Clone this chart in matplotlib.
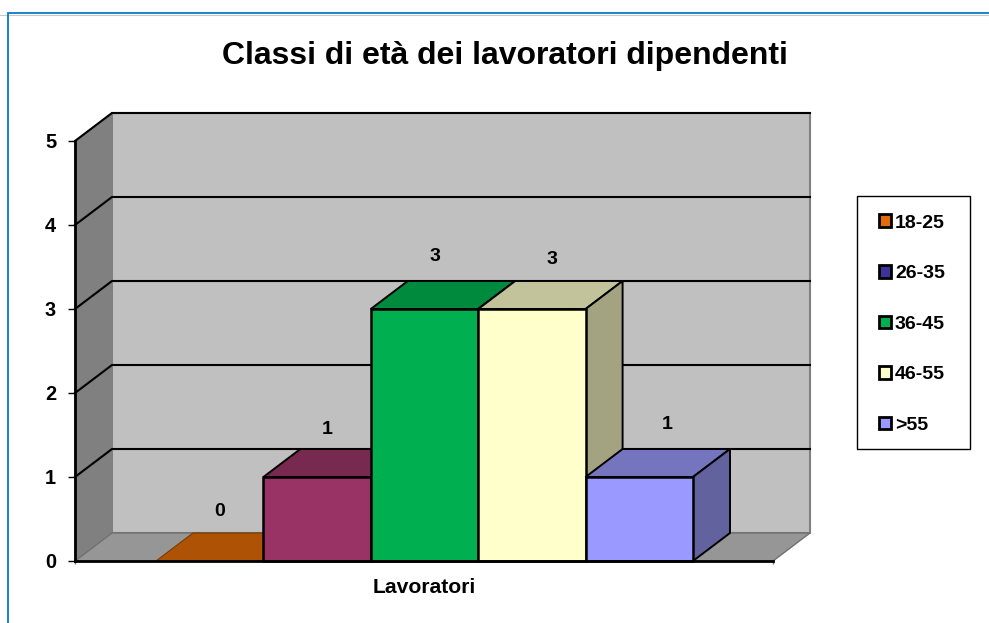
import matplotlib
matplotlib.use("Agg")
import matplotlib.pyplot as plt
from matplotlib.patches import Patch, Polygon, Rectangle

categories = ["18-25", "26-35", "36-45", "46-55", ">55"]
values = [0, 1, 3, 3, 1]
front_colors = ["#e26b0a", "#993366", "#00b050", "#ffffcc", "#9999ff"]
top_colors = ["#ae5305", "#77294f", "#008a3e", "#c2c29b", "#7575bf"]
side_colors = ["#8a4204", "#5e2040", "#006e31", "#a3a382", "#62629f"]
yticks = [0, 1, 2, 3, 4, 5]
legend_swatches = ["#e26b0a", "#403294", "#00b050", "#ffffcc", "#9999ff"]

# where the value labels sit, relative to the bar's left edge and top
label_dx = [0.595, 0.59, 0.595, 0.69, 0.76]
label_dy = [0.595, 0.56, 0.62, 0.585, 0.62]

W, H = 989, 623
x_left, x_right, y_top, y_bot = 75, 773, 141, 561
bar_w = 107.4
dx = 37 / bar_w  # depth of the 3d box in data units
dy = 28 / 84
x0 = (75 - 156) / bar_w
x1 = (773 - 156) / bar_w

plt.rcParams["font.family"] = ["Liberation Sans", "DejaVu Sans"]
plt.rcParams["font.weight"] = "bold"

fig = plt.figure(figsize=(W / 100, H / 100), dpi=100, facecolor="white")

# frame of the page: only left and top are visible
fig.add_artist(plt.Line2D([0, 1], [1 - 14.8 / H, 1 - 14.8 / H], color="#c8c8c8", lw=0.8))
fig.add_artist(plt.Line2D([8 / W, 8 / W, 1], [0, 1 - 13.2 / H, 1 - 13.2 / H],
                          color="#0a78c8", lw=1.3, solid_joinstyle="miter"))

ax = fig.add_axes([x_left / W, 1 - y_bot / H, (x_right - x_left) / W, (y_bot - y_top) / H])
ax.set_xlim(x0, x1)
ax.set_ylim(0, 5)
ax.patch.set_visible(False)


def poly(pts, fc, ec="black", lw=1.5, z=2):
    ax.add_patch(Polygon(pts, closed=True, facecolor=fc, edgecolor=ec, lw=lw,
                         joinstyle="miter", clip_on=False, zorder=z))


# walls and floor
poly([(x0 + dx, dy), (x1 + dx, dy), (x1 + dx, 5 + dy), (x0 + dx, 5 + dy)], "#c0c0c0", ec="#808080", lw=1.5, z=1)
poly([(x0, 0), (x0 + dx, dy), (x0 + dx, 5 + dy), (x0, 5)], "#808080", ec="#808080", lw=1, z=1)
poly([(x0, 0), (x1, 0), (x1 + dx, dy), (x0 + dx, dy)], "#969696", ec="#707070", lw=1, z=1)

for t in yticks[1:]:
    ax.plot([x0, x0 + dx, x1 + dx], [t, t + dy, t + dy], color="black", lw=1.5,
            clip_on=False, zorder=1.5, solid_joinstyle="miter")

# boxes, drawn left to right so each one covers the side of the previous
for i, v in enumerate(values):
    poly([(i, v), (i + 1, v), (i + 1 + dx, v + dy), (i + dx, v + dy)], top_colors[i],
         ec="black" if v else "#7a3a04", lw=1.4 if v else 0.8, z=3 + i)
    if v:
        poly([(i + 1, 0), (i + 1 + dx, dy), (i + 1 + dx, v + dy), (i + 1, v)], side_colors[i], lw=1.4, z=3 + i)
        ax.add_patch(Rectangle((i, 0), 1, v, facecolor=front_colors[i], edgecolor="black",
                               lw=1.8, clip_on=False, zorder=3.5 + i))
    ax.text(i + label_dx[i], v + label_dy[i], str(v), ha="center", va="center", fontsize=14,
            fontweight="bold", zorder=12)

for s in ["top", "right"]:
    ax.spines[s].set_visible(False)
for s in ["left", "bottom"]:
    ax.spines[s].set_linewidth(2)
    ax.spines[s].set_zorder(11)
ax.set_yticks(yticks)
ax.set_xticks([(x0 + x1) / 2])
ax.set_xticklabels(["Lavoratori"], fontsize=15.2, fontweight="bold")
ax.set_xticks([x0, x1], minor=True)
ax.tick_params(axis="y", labelsize=14.4, length=5, width=1, pad=8.6)
ax.tick_params(axis="x", which="major", length=0, pad=12.5)
ax.tick_params(axis="x", which="minor", length=2.5, width=1, color="#707070")
for lab in ax.get_yticklabels():
    lab.set_fontweight("bold")

fig.text(504.5 / W, 1 - 56 / H, "Classi di età dei lavoratori dipendenti", ha="center", va="center",
         fontsize=23.05, fontweight="bold")

# legend box is drawn apart so its height can differ from the legend's padding
fig.add_artist(Rectangle((856.5 / W, 1 - 449 / H), 113 / W, 253 / H, transform=fig.transFigure,
                         facecolor="white", edgecolor="black", lw=1))
handles = [Patch(facecolor=c, edgecolor="black", lw=2) for c in legend_swatches]
leg = fig.legend(handles, categories, loc="upper left", bbox_to_anchor=(879 / W, 1 - 214.4 / H),
                 borderaxespad=0, frameon=False,
                 handlelength=0.62, handleheight=0.62, handletextpad=0.2,
                 labelspacing=1.72, borderpad=0, prop={"weight": "bold", "size": 14})

fig.savefig("out.png", dpi=100)
